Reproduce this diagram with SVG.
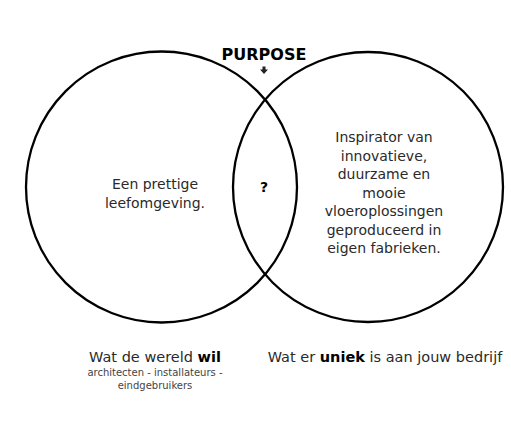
<svg xmlns="http://www.w3.org/2000/svg" width="511" height="429" viewBox="0 0 511 429">
<style>
.c{fill:none;stroke:#000;stroke-width:2.3}
.t{font-family:"DejaVu Sans","Open Sans",sans-serif;font-size:14px;fill:#2a2a2a;text-anchor:middle}
.b{font-weight:bold;fill:#000}
.s{font-family:"DejaVu Sans","Open Sans",sans-serif;font-size:10px;fill:#444;text-anchor:middle}
</style>
<rect width="511" height="429" fill="#fff"/>
<g id="left-circle">
<circle class="c" cx="161.5" cy="187" r="135.5"/>
<text class="t" x="155" y="189">Een prettige</text>
<text class="t" x="155" y="208">leefomgeving.</text>
</g>
<g id="right-circle">
<circle class="c" cx="368" cy="187" r="135"/>
<text class="t" x="384" y="142">Inspirator van</text>
<text class="t" x="384" y="160.5">innovatieve,</text>
<text class="t" x="384" y="179">duurzame en</text>
<text class="t" x="384" y="197.5">mooie</text>
<text class="t" x="384" y="216">vloeroplossingen</text>
<text class="t" x="384" y="234.5">geproduceerd in</text>
<text class="t" x="384" y="253">eigen fabrieken.</text>
</g>
<g id="overlap">
<text class="t b" x="264" y="192">?</text>
</g>
<g id="purpose">
<text class="t b" x="264" y="60" style="font-size:16px">PURPOSE</text>
</g>
<g id="connectors">
<path d="M262.5 66.5h3v3h2.5l-4 4.5l-4-4.5h2.5z" fill="#222"/>
</g>
<g id="label-left">
<text class="t" x="155" y="362" style="font-size:14.5px">Wat de wereld <tspan class="b">wil</tspan></text>
<text class="s" x="155" y="376">architecten - installateurs -</text>
<text class="s" x="155" y="389">eindgebruikers</text>
</g>
<g id="label-right">
<text class="t" x="385" y="362" style="font-size:14.5px">Wat er <tspan class="b">uniek</tspan> is aan jouw bedrijf</text>
</g>
</svg>
